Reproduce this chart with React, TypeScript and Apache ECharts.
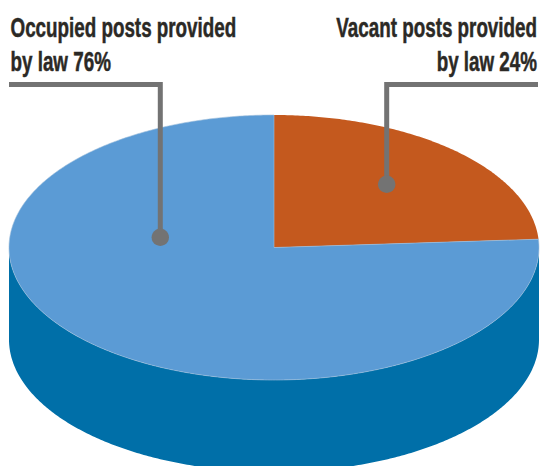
import React, { useEffect, useRef } from "react";
import * as echarts from "echarts";

const sliceNames = ["Vacant posts provided by law", "Occupied posts provided by law"];
const sliceValues = [24, 76];
const sliceColors = ["#c4591e", "#5b9bd5"];
const wallColors = ["#9c4717", "#006fa8"];
const labelLines = [
  ["Occupied posts provided", "by law 76%"],
  ["Vacant posts provided", "by law 24%"],
];

const CX = 274;
const CY = 247.5;
const RX = 265;
const RY = 132.5;
const DEPTH = 92;
const LEADER = "#737373";
const TEXT = "#2b2925";
const total = sliceValues.reduce((a, b) => a + b, 0);

// Angles run clockwise from 12 o'clock, as a pie's do.
const rimPoint = (a: number, dy = 0): number[] => [
  CX + RX * Math.sin(a),
  CY - RY * Math.cos(a) + dy,
];

const arcPoints = (from: number, to: number, dy = 0): number[][] => {
  const steps = Math.max(2, Math.ceil(Math.abs(to - from) / 0.01));
  const pts: number[][] = [];
  for (let i = 0; i <= steps; i++) pts.push(rimPoint(from + ((to - from) * i) / steps, dy));
  return pts;
};

const renderItem = (params: any, api: any) => {
  const i = params.dataIndex;
  const before = sliceValues.slice(0, i).reduce((a, b) => a + b, 0);
  const start = (before / total) * Math.PI * 2;
  const end = ((before + Number(api.value(0))) / total) * Math.PI * 2;
  const children: any[] = [];

  // The wall shows only on the front half of the rim.
  const wStart = Math.max(start, Math.PI / 2);
  const wEnd = Math.min(end, (Math.PI * 3) / 2);
  if (wEnd > wStart) {
    children.push({
      type: "polygon",
      shape: {
        points: [...arcPoints(wStart, wEnd), ...arcPoints(wEnd, wStart, DEPTH)],
      },
      style: { fill: wallColors[i] },
    });
  }
  children.push({
    type: "polygon",
    shape: { points: [[CX, CY], ...arcPoints(start, end)] },
    style: { fill: sliceColors[i], stroke: "#9fbfdc", lineWidth: i === 1 ? 0.6 : 0 },
  });
  return { type: "group", children };
};

const textBlock = (lines: string[], x: number, align: string) =>
  lines.map((t, k) => ({
    type: "text",
    x,
    y: 41 + k * 34.5,
    scaleX: 0.672,
    z: 20,
    silent: true,
    style: {
      text: t,
      fill: TEXT,
      stroke: TEXT,
      lineWidth: 0.5,
      font: 'bold 28px "Liberation Sans Narrow", "Liberation Sans", sans-serif',
      textAlign: align,
      textVerticalAlign: "bottom",
    },
  }));

const leader = (points: number[][], dot: number[]) => [
  {
    type: "polyline",
    z: 20,
    silent: true,
    shape: { points },
    style: { stroke: LEADER, lineWidth: 5, fill: "none", lineJoin: "miter" },
  },
  {
    type: "circle",
    z: 20,
    silent: true,
    shape: { cx: dot[0], cy: dot[1], r: 8.7 },
    style: { fill: LEADER },
  },
];

export default function App() {
  const ref = useRef<HTMLDivElement>(null);
  useEffect(() => {
    document.body.style.margin = "0";
    const chart = echarts.init(ref.current!, undefined, { renderer: "svg" });
    chart.setOption({
      animation: false,
      backgroundColor: "#ffffff",
      series: [
        {
          type: "custom",
          coordinateSystem: "none",
          silent: true,
          z: 1,
          renderItem,
          data: sliceValues.map((v, i) => ({ name: sliceNames[i], value: [v] })),
        },
      ],
      graphic: {
        elements: [
          ...leader([[9, 84.5], [160.3, 84.5], [160.3, 237]], [160.3, 237.3]),
          ...leader([[538, 84.5], [386.7, 84.5], [386.7, 184]], [386.7, 184.3]),
          ...textBlock(labelLines[0], 10.5, "left"),
          ...textBlock(labelLines[1], 537, "right"),
        ],
      },
    });
    return () => chart.dispose();
  }, []);
  return <div ref={ref} style={{ width: 541, height: 466 }} />;
}
